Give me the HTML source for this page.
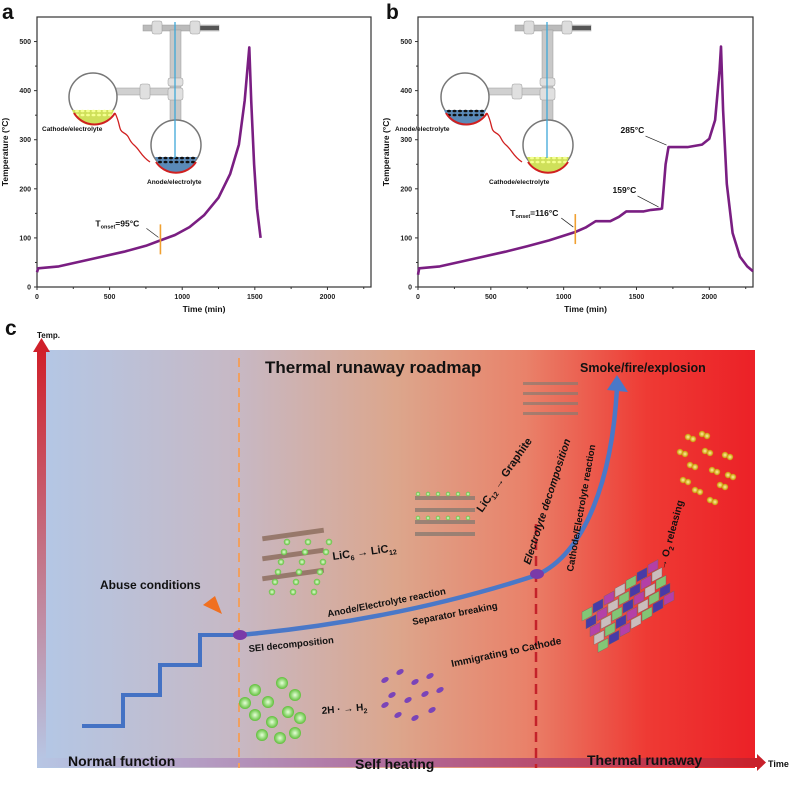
<!DOCTYPE html>
<html><head><meta charset="utf-8">
<style>
html,body{margin:0;padding:0;background:#fff;}
svg{display:block;font-family:"Liberation Sans",Arial,sans-serif;}
.tk{font-size:7px;font-weight:bold;fill:#222;}
.ttl{font-size:8.5px;font-weight:bold;fill:#111;}
.lb{font-weight:bold;fill:#111;}
</style></head>
<body>
<svg id="fig" width="800" height="790" viewBox="0 0 800 790" xmlns="http://www.w3.org/2000/svg">
<defs>
<linearGradient id="bg" x1="0" x2="1" y1="0" y2="0">
<stop offset="0" stop-color="#b3c7e6"/>
<stop offset="0.28" stop-color="#c7b8c4"/>
<stop offset="0.5" stop-color="#dca68c"/>
<stop offset="0.68" stop-color="#e9826a"/>
<stop offset="0.85" stop-color="#ee3a34"/>
<stop offset="1" stop-color="#ec2127"/>
</linearGradient>
<linearGradient id="vax" x1="0" x2="0" y1="0" y2="1">
<stop offset="0" stop-color="#d0202a"/><stop offset="1" stop-color="#b7c6e4"/>
</linearGradient>
<linearGradient id="hax" x1="0" x2="1" y1="0" y2="0">
<stop offset="0" stop-color="#b7c6e4"/><stop offset="0.5" stop-color="#b06a9a"/><stop offset="1" stop-color="#c8202a"/>
</linearGradient>
<radialGradient id="gball"><stop offset="0" stop-color="#e6ffd8"/><stop offset="1" stop-color="#5fbf3a"/></radialGradient>
<radialGradient id="yball"><stop offset="0" stop-color="#fff2a0"/><stop offset="1" stop-color="#c89400"/></radialGradient>
</defs>

<text x="2" y="19" class="lb" font-size="21">a</text>
<text x="386" y="19" class="lb" font-size="21">b</text>
<text x="5" y="335" class="lb" font-size="21">c</text>

<g id="chartA"></g>
<g id="chartB"></g>

<g id="insetA"></g>
<g id="insetB"></g>

<g>
<rect x="37" y="350" width="718" height="418" fill="url(#bg)"/>
<rect x="37" y="350" width="9" height="410" fill="url(#vax)"/>
<polygon points="33,352 41.5,338 50,352" fill="#d0202a"/>
<text x="37" y="338" class="lb" font-size="8">Temp.</text>
<rect x="37" y="758" width="722" height="9" fill="url(#hax)"/>
<polygon points="757,754 766,762.5 757,771" fill="#c8202a"/>
<text x="768" y="767" class="lb" font-size="9">Time</text>

<line x1="239" y1="358" x2="239" y2="768" stroke="#f0a060" stroke-width="2" stroke-dasharray="9,6"/>
<line x1="536" y1="524" x2="536" y2="768" stroke="#c4222a" stroke-width="2.5" stroke-dasharray="10,6"/>

<text x="265" y="373" class="lb" font-size="17">Thermal runaway roadmap</text>
<text x="580" y="372" class="lb" font-size="12.5">Smoke/fire/explosion</text>

<polyline points="82,726 123,726 123,695 160,695 160,665 200,665 200,635 240,635" fill="none" stroke="#4472c4" stroke-width="4"/>
<path d="M240,635 Q400,620 537,575 C585,553 612,480 617,388" fill="none" stroke="#4a78c8" stroke-width="4.5"/>
<polygon points="607,390 617,375 628,392" fill="#4a78c8"/>
<ellipse cx="240" cy="635" rx="7" ry="5" fill="#7a3aa8"/>
<ellipse cx="537" cy="574" rx="7" ry="5" fill="#7a3aa8"/>
<polygon points="203,605 215,596 222,614" fill="#f07020"/>

<text x="100" y="589" class="lb" font-size="12">Abuse conditions</text>
<text x="249" y="652" class="lb" font-size="9.5" transform="rotate(-6 249 652)">SEI decomposition</text>
<text x="328" y="617" class="lb" font-size="9.5" transform="rotate(-11 328 617)">Anode/Electrolyte reaction</text>
<text x="413" y="625" class="lb" font-size="9.5" transform="rotate(-11 413 625)">Separator breaking</text>
<text x="452" y="667" class="lb" font-size="10" transform="rotate(-12 452 667)">Immigrating to Cathode</text>
<text x="333" y="560" class="lb" font-size="11" transform="rotate(-8 333 560)">LiC<tspan font-size="7" dy="3">6</tspan><tspan dy="-3"> → LiC</tspan><tspan font-size="7" dy="3">12</tspan></text>
<text x="482" y="513" class="lb" font-size="11" transform="rotate(-55 482 513)">LiC<tspan font-size="7" dy="3">12</tspan><tspan dy="-3"> → Graphite</tspan></text>
<text x="530" y="565" class="lb" font-size="10.5" font-style="italic" transform="rotate(-72 530 565)">Electrolyte decomposition</text>
<text x="573" y="572" class="lb" font-size="9.5" transform="rotate(-80 573 572)">Cathode/Electrolyte reaction</text>
<text x="665" y="570" class="lb" font-size="10" transform="rotate(-75 665 570)">→ O<tspan font-size="7" dy="3">2</tspan><tspan dy="-3"> releasing</tspan></text>
<text x="322" y="714" class="lb" font-size="10" transform="rotate(-5 322 714)">2H · → H<tspan font-size="7" dy="3">2</tspan></text>
<text x="68" y="766" class="lb" font-size="14">Normal function</text>
<text x="355" y="769" class="lb" font-size="14">Self heating</text>
<text x="587" y="765" class="lb" font-size="14">Thermal runaway</text>
<g id="deco"></g>
<g id="lattice" transform="translate(582,612) skewY(-28)"></g>
</g>
</svg>
<script>
const NS='http://www.w3.org/2000/svg';
// ---- chart data ----
const xTicks=[0,500,1000,1500,2000];
const yTicks=[0,100,200,300,400,500];
const timeA=[0,8,150,300,450,600,750,850,950,1050,1150,1250,1330,1390,1430,1462,1475,1495,1515,1540];
const tempA=[30,38,42,52,62,72,84,95,106,122,146,182,230,290,380,488,380,250,160,100];
const timeB=[0,8,150,300,450,600,750,900,1080,1150,1220,1320,1380,1430,1550,1600,1665,1675,1700,1720,1850,1950,2000,2040,2070,2080,2095,2120,2160,2210,2260,2300];
const tempB=[25,38,42,52,62,72,83,95,112,121,134,134,143,154,154,157,159,160,250,285,285,290,302,340,440,490,360,210,110,62,42,32];
const onsetA=[850,95];const onsetB=[1080,116];

function el(tag,attrs,parent){const e=document.createElementNS(NS,tag);for(const k in attrs)e.setAttribute(k,attrs[k]);parent.appendChild(e);return e;}

function chart(g,x0,x1,yTop,yBot,time,temp,onset,label){
  const xs=v=>x0+(v/2300)*(x1-x0);
  const ys=v=>yBot-(v/550)*(yBot-yTop);
  const fr=el('rect',{x:x0,y:yTop,width:x1-x0,height:yBot-yTop,fill:'none',stroke:'#333','stroke-width':1.2},g);
  
  
  xTicks.forEach(t=>{
    el('line',{x1:xs(t),x2:xs(t),y1:yBot,y2:yBot+3,stroke:'#333'},g);
    const tx=el('text',{x:xs(t),y:yBot+12,'text-anchor':'middle',class:'tk'},g);tx.textContent=t;
    
    
  });
  for(let t=250;t<2300;t+=500)el('line',{x1:xs(t),x2:xs(t),y1:yBot,y2:yBot+2,stroke:'#333'},g);
  yTicks.forEach(t=>{
    el('line',{x1:x0-3,x2:x0,y1:ys(t),y2:ys(t),stroke:'#333'},g);
    const tx=el('text',{x:x0-6,y:ys(t)+2.5,'text-anchor':'end',class:'tk'},g);tx.textContent=t;
    
    
  });
  for(let t=50;t<550;t+=100)el('line',{x1:x0-2,x2:x0,y1:ys(t),y2:ys(t),stroke:'#333'},g);
  const xt=el('text',{x:(x0+x1)/2,y:yBot+25,'text-anchor':'middle',class:'ttl'},g);xt.textContent='Time (min)';
  
  
  const yx=x0-29,yy=(yTop+yBot)/2;
  const yt=el('text',{x:yx,y:yy,'text-anchor':'middle',class:'ttl',transform:`rotate(-90 ${yx} ${yy})`},g);yt.textContent='Temperature (°C)';
  
  
  const pts=time.map((t,i)=>xs(t).toFixed(1)+','+ys(temp[i]).toFixed(1)).join(' ');
  const ln=el('polyline',{points:pts,fill:'none',stroke:'#7a1e82','stroke-width':2.6,'stroke-linejoin':'round'},g);
  
  
  const ox=xs(onset[0]),oy=ys(onset[1]);
  const om=el('line',{x1:ox,x2:ox,y1:oy-16,y2:oy+14,stroke:'#f0a030','stroke-width':1.6},g);
  
  
  el('line',{x1:ox-14,y1:oy-12,x2:ox-2,y2:oy-3,stroke:'#222','stroke-width':0.7},g);
  const ot=el('text',{x:ox-65,y:oy-14,class:'lb','font-size':'8.5'},g);
  ot.innerHTML='T<tspan font-size="5.5" dy="2">onset</tspan><tspan dy="-2">='+label+'°C</tspan>';
  
  
  return {xs,ys};
}
const A=chart(document.getElementById('chartA'),37,371,17,287,timeA,tempA,onsetA,'95');
const gB=document.getElementById('chartB');
const B=chart(gB,418,753,17,287,timeB,tempB,onsetB,'116');
[[1665,159,'159°C',-48,-16],[1720,285,'285°C',-48,-14]].forEach(a=>{
  const x=B.xs(a[0]),y=B.ys(a[1]);
  el('line',{x1:x+a[3]+25,y1:y+a[4]+3,x2:x-2,y2:y-2,stroke:'#222','stroke-width':0.7},gB);
  const t=el('text',{x:x+a[3],y:y+a[4],class:'lb','font-size':'8.5'},gB);t.textContent=a[2];
  
  
});

function dots(g,cx,cy,color){
  for(let i=0;i<14;i++){el('ellipse',{cx:cx-17+(i%7)*5.5,cy:cy+2+Math.floor(i/7)*4,rx:2,ry:1.3,fill:color},g);}
}
function inset(g,dx,leftDark){
  g.setAttribute('transform',`translate(${dx},0)`);
  el('rect',{x:143,y:25,width:76,height:6,fill:'#bbb',stroke:'#999','stroke-width':0.5},g);
  el('rect',{x:200,y:26,width:19,height:4,fill:'#555'},g);
  el('rect',{x:152,y:21,width:10,height:13,fill:'#ddd',stroke:'#999','stroke-width':0.5,rx:2},g);
  el('rect',{x:190,y:21,width:10,height:13,fill:'#ddd',stroke:'#999','stroke-width':0.5,rx:2},g);
  el('rect',{x:170,y:30,width:11,height:95,fill:'#c8c8c8',stroke:'#999','stroke-width':0.5},g);
  el('rect',{x:116,y:88,width:60,height:7,fill:'#d0d0d0',stroke:'#999','stroke-width':0.5},g);
  el('rect',{x:140,y:84,width:10,height:15,fill:'#e0e0e0',stroke:'#999','stroke-width':0.5,rx:2},g);
  el('rect',{x:168,y:78,width:15,height:8,fill:'#e0e0e0',stroke:'#999','stroke-width':0.5,rx:2},g);
  el('rect',{x:168,y:88,width:15,height:12,fill:'#e0e0e0',stroke:'#999','stroke-width':0.5,rx:2},g);
  el('circle',{cx:93,cy:97,r:24,fill:'#fff',stroke:'#777','stroke-width':1.5},g);
  el('circle',{cx:176,cy:145,r:25,fill:'#fff',stroke:'#777','stroke-width':1.5},g);
  el('path',{d:'M72,110 A22,22 0 0 0 114,110 Z',fill:leftDark?'#5a8ab8':'#cfe05a'},g);
  el('path',{d:'M155,157 A22,22 0 0 0 197,157 Z',fill:leftDark?'#cfe05a':'#5a8ab8'},g);
  dots(g,94,109,leftDark?'#111':'#f4ff90');
  dots(g,177,156,leftDark?'#f4ff90':'#111');
  el('path',{d:'M74,113 A24,24 0 0 0 115,113',fill:'none',stroke:'#d02020','stroke-width':2},g);
  el('path',{d:'M156,162 A24,24 0 0 0 196,162',fill:'none',stroke:'#d02020','stroke-width':2},g);
  el('path',{d:'M115,113 C121,125 118,130 124,133 C130,136 128,140 134,145 C140,150 141,156 150,162',fill:'none',stroke:'#d02020','stroke-width':1.3},g);
  el('line',{x1:175,y1:22,x2:175,y2:158,stroke:'#3fa8d8','stroke-width':1.3},g);
  const l1=el('text',{x:leftDark?23:42,y:131,class:'lb','font-size':'6.5'},g);l1.textContent=leftDark?'Anode/electrolyte':'Cathode/electrolyte';
  const l2=el('text',{x:leftDark?117:147,y:184,class:'lb','font-size':'6.5'},g);l2.textContent=leftDark?'Cathode/electrolyte':'Anode/electrolyte';
}
inset(document.getElementById('insetA'),0,false);
inset(document.getElementById('insetB'),372,true);

const d=document.getElementById('deco');
for(let r=0;r<3;r++){el('rect',{x:262,y:532+r*20,width:62,height:5,fill:'#8a6a5a',opacity:0.8,transform:`rotate(-8 293 ${534+r*20})`},d);}
for(let c=0;c<3;c++)for(let k=0;k<6;k++)el('circle',{cx:272+c*21+k*3,cy:592-k*10,r:3.2,fill:'url(#gball)'},d);
for(let r=0;r<4;r++)el('rect',{x:415,y:496+r*12,width:60,height:4,fill:'#8a7a70',opacity:0.8},d);
for(let k=0;k<12;k++)el('circle',{cx:418+(k%6)*10,cy:494+Math.floor(k/6)*24,r:2.2,fill:'url(#gball)'},d);
for(let r=0;r<4;r++)el('rect',{x:523,y:382+r*10,width:55,height:3,fill:'#8a7a70',opacity:0.7},d);
[[255,690],[268,702],[282,683],[295,695],[255,715],[272,722],[288,712],[300,718],[262,735],[280,738],[295,733],[245,703]].forEach(p=>el('circle',{cx:p[0],cy:p[1],r:6,fill:'url(#gball)'},d));
[[385,680],[400,672],[415,682],[430,676],[392,695],[408,700],[425,694],[440,690],[398,715],[415,718],[432,710],[385,705]].forEach(p=>el('ellipse',{cx:p[0],cy:p[1],rx:4,ry:2.5,fill:'#7a44b8',transform:`rotate(-30 ${p[0]} ${p[1]})`},d));
[[688,437],[702,434],[680,452],[705,451],[690,465],[712,470],[725,455],[683,480],[720,485],[710,500],[695,490],[728,475]].forEach(p=>{el('circle',{cx:p[0],cy:p[1],r:3.2,fill:'url(#yball)'},d);el('circle',{cx:p[0]+5,cy:p[1]+2,r:3.2,fill:'url(#yball)'},d);});
const lat=document.getElementById('lattice');
const cols=['#7ad07a','#3a3ab0','#b040b0','#c8c8c8'];
for(let i=0;i<7;i++)for(let j=0;j<5;j++)el('rect',{x:i*11+j*4,y:j*10-i*2,width:10,height:9,fill:cols[(i+j)%4],stroke:'#666','stroke-width':0.4,opacity:0.92},lat);
</script>
</body></html>
